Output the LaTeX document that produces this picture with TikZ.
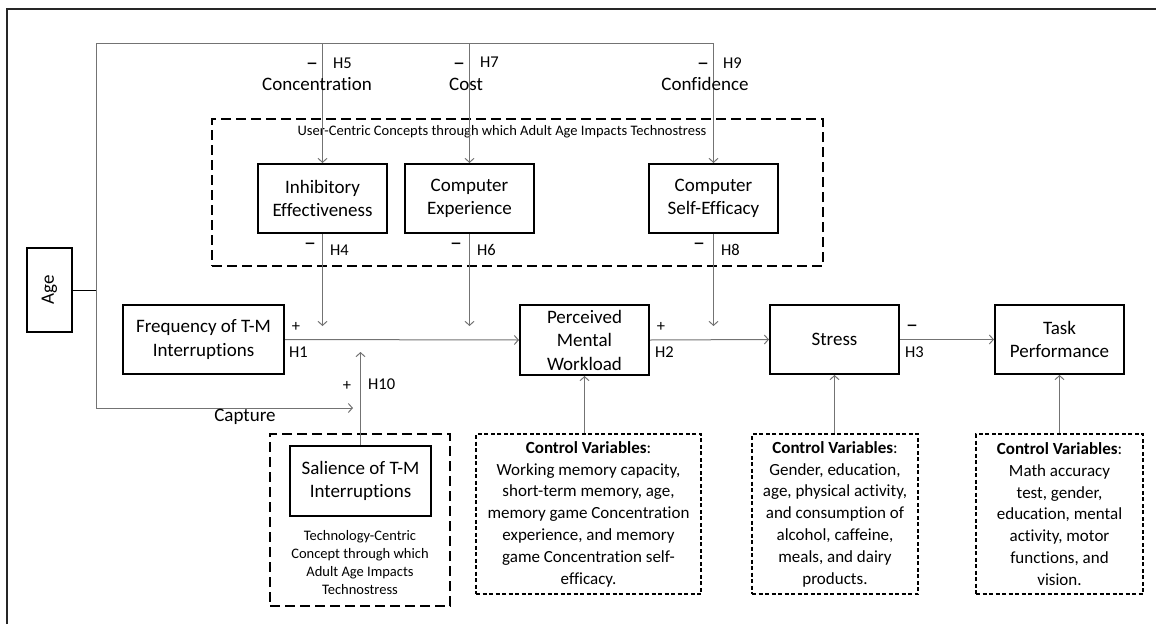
\documentclass[tikz,border=0pt]{standalone}
\usepackage{fontspec}
\setmainfont{Carlito}[Ligatures=NoCommon]
\usetikzlibrary{arrows.meta}
\newcommand\mainsz{\fontsize{19}{23.5}\selectfont}
\newcommand\ctrlsz{\fontsize{17}{21.8}\selectfont}
\newcommand\smallsz{\fontsize{14.5}{18}\selectfont}
\newcommand\hsz{\fontsize{16.5}{19}\selectfont}
\newcommand\minussz{\fontsize{24}{24}\selectfont}
\tikzset{
  box/.style={draw=black, line width=2pt, align=center, font=\mainsz, inner sep=0pt},
  groupbox/.style={draw=black, line width=2pt, dash pattern=on 10pt off 5pt},
  ctrlbox/.style={draw=black, line width=2pt, dash pattern=on 4pt off 2.5pt, align=center, font=\ctrlsz, inner sep=0pt},
  conn/.style={draw=black!55, line width=1pt},
  arr/.style={conn, -{Straight Barb[length=4pt,width=9pt]}},
  hyp/.style={font=\hsz, inner sep=0pt},
  neg/.style={font=\minussz, inner sep=0pt, text height=7pt, text depth=-4pt},
  hypl/.style={font=\hsz, inner sep=0pt, anchor=west},
  concept/.style={font=\mainsz, inner sep=0pt},
}
\begin{document}
\begin{tikzpicture}[x=1pt, y=-1pt]
\useasboundingbox (0,0) rectangle (1156,624);
% frame
\draw[line width=2.5pt, draw=black!85] (7,624) -- (7,9) -- (1156,9);

% group boxes
\node[groupbox, minimum width=611pt, minimum height=147pt] (ucc) at (517.5,192.5) {};
\node[font=\smallsz, inner sep=0pt] (ucclab) at (502,132) {User-Centric Concepts through which Adult Age Impacts Technostress};
\node[groupbox, minimum width=180pt, minimum height=172pt] (tcc) at (360,520) {};

% constructs
\node[box, rotate=90, minimum width=84pt, minimum height=45pt] (age) at (49.5,290) {Age};
\node[box, minimum width=129pt, minimum height=69pt] (ie) at (322.5,198.5) {Inhibitory\\Effectiveness};
\node[box, minimum width=129pt, minimum height=69pt] (ce) at (469.5,198.5) {Computer\\Experience};
\node[box, minimum width=129pt, minimum height=69pt] (cse) at (713.5,198.5) {Computer\\Self-Efficacy};
\node[box, minimum width=161pt, minimum height=69pt] (freq) at (203.5,339.5) {Frequency of T-M\\Interruptions};
\node[box, minimum width=129pt, minimum height=70pt] (pmw) at (584.5,340) {Perceived\\Mental\\Workload};
\node[box, minimum width=129pt, minimum height=69pt] (str) at (834.5,339.5) {Stress};
\node[box, minimum width=129pt, minimum height=69pt] (tp) at (1059.5,339.5) {Task\\Performance};
\node[box, minimum width=141pt, minimum height=70pt] (sal) at (360.5,481) {Salience of T-M\\Interruptions};
\node[font=\smallsz, align=center, inner sep=0pt] (tcclab) at (360,563) {Technology-Centric\\Concept through which\\Adult Age Impacts\\Technostress};

% control variable boxes
\node[ctrlbox, minimum width=225pt, minimum height=160pt] (cv1) at (588.5,514) {\textbf{Control Variables}:\\Working memory capacity,\\short-term memory, age,\\memory game Concentration\\experience, and memory\\game Concentration self-\\efficacy.};
\node[ctrlbox, minimum width=166pt, minimum height=160pt] (cv2) at (835,514) {\textbf{Control Variables}:\\Gender, education,\\age, physical activity,\\and consumption of\\alcohol, caffeine,\\meals, and dairy\\products.};
\node[ctrlbox, minimum width=167pt, minimum height=160pt] (cv3) at (1059.5,514) {\textbf{Control Variables}:\\Math accuracy\\test, gender,\\education, mental\\activity, motor\\functions, and\\vision.};

% routing points
\coordinate (agej) at (96,290);
\coordinate (topbus) at (96,43);
\coordinate (modrow) at (0,326);
\coordinate (capt) at (353,408);
\coordinate (h10end) at (360.5,352);

% age links
\draw[line width=1pt] (age.south) -- (agej);
\draw[conn] (agej) -- (topbus) -- (topbus -| cse.north);
\draw[arr] (topbus -| ie.north) -- (ie.north);
\draw[arr] (topbus -| ce.north) -- (ce.north);
\draw[arr] (topbus -| cse.north) -- (cse.north);
\draw[arr] (agej) -- (agej |- capt) -- (capt);

% moderators onto the main paths
\draw[arr] (ie.south) -- (ie.south |- modrow);
\draw[arr] (ce.south) -- (ce.south |- modrow);
\draw[arr] (cse.south) -- (cse.south |- modrow);
\draw[arr] (sal.north) -- (h10end);

% main chain
\draw[arr] (freq.east) -- (pmw.west);
\draw[arr] (pmw.east) -- (str.west);
\draw[arr] (str.east) -- (tp.west);

% controls
\draw[arr] (cv1.north -| pmw.south) -- (pmw.south);
\draw[arr] (cv2.north -| str.south) -- (str.south);
\draw[arr] (cv3.north -| tp.south) -- (tp.south);

% hypothesis labels
\node[neg] (m5) at (312,67) {–};  \node[hypl] (h5) at (333,63) {H5};
\node[neg] (m7) at (459,67) {–};  \node[hypl] (h7) at (480,62) {H7};
\node[neg] (m9) at (703,67) {–};  \node[hypl] (h9) at (723,63) {H9};
\node[concept] (conc) at (317,84) {Concentration};
\node[concept] (cost) at (466,84) {Cost};
\node[concept] (conf) at (705,84) {Confidence};
\node[neg] (m4) at (310,247) {–};  \node[hypl] (h4) at (330,250) {H4};
\node[neg] (m6) at (456,247) {–};  \node[hypl] (h6) at (477,250) {H6};
\node[neg] (m8) at (699,247) {–};  \node[hypl] (h8) at (721,250) {H8};
\node[hyp] (p1) at (296,327) {+};  \node[hypl] (h1) at (289,352) {H1};
\node[hyp] (p2) at (661,327) {+};  \node[hypl] (h2) at (655,352) {H2};
\node[neg] (m3) at (912,329) {–};  \node[hypl] (h3) at (905,352) {H3};
\node[hyp] (p10) at (347,386) {+}; \node[hypl] (h10) at (368,384) {H10};
\node[concept] (captlab) at (245,417) {Capture};
\end{tikzpicture}
\end{document}
